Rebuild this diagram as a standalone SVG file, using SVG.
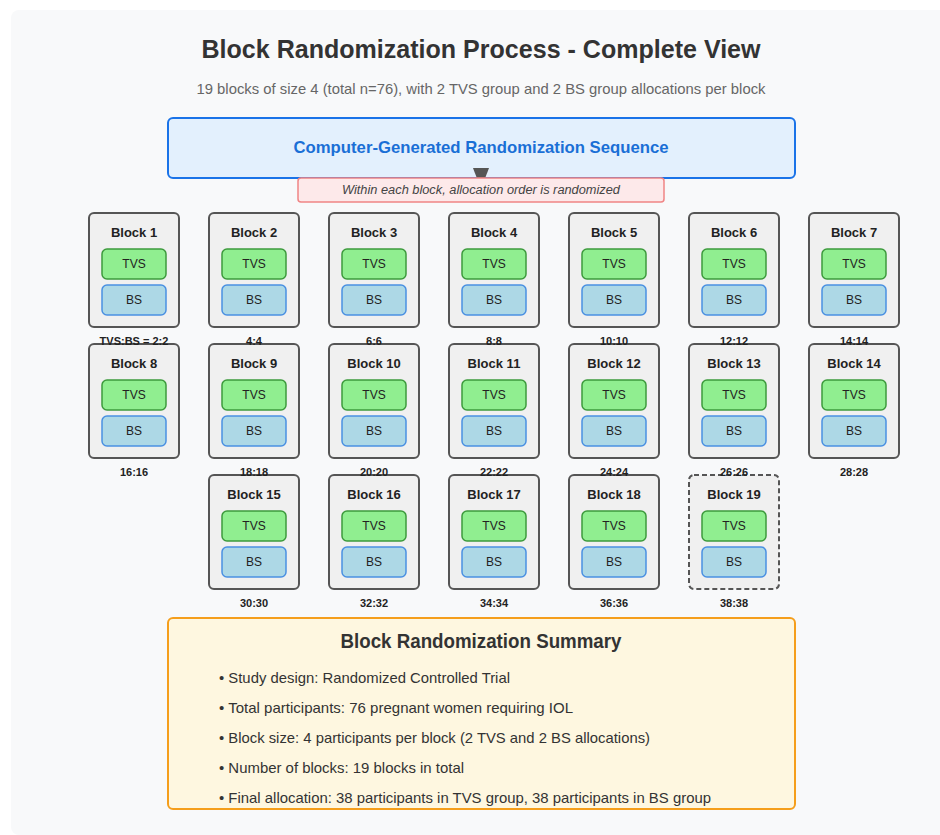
<svg xmlns="http://www.w3.org/2000/svg" width="940" height="835" viewBox="0 0 940 835">
<style>
text{font-family:"Liberation Sans",Arial,sans-serif;}
.blk{fill:#f0f0f0;stroke:#555;stroke-width:2;}
.dash{stroke-dasharray:5,3;}
.tvs{fill:#90ee90;stroke:#3d9a3d;stroke-width:1.5;}
.bs{fill:#add8e6;stroke:#4a90e2;stroke-width:1.5;}
.bt{font-size:13px;font-weight:bold;fill:#222;text-anchor:middle;}
.it{font-size:12px;fill:#222;text-anchor:middle;}
.rat{font-size:11px;font-weight:bold;fill:#222;text-anchor:middle;}
.bul{font-size:15px;fill:#333;}
</style>
<rect x="11" y="10" width="940" height="825" rx="8" fill="#f8f9fa"/>
<text x="481" y="58" font-size="26" font-weight="bold" fill="#333" text-anchor="middle" textLength="559" lengthAdjust="spacingAndGlyphs">Block Randomization Process - Complete View</text>
<text x="481" y="94" font-size="15" fill="#666" text-anchor="middle" textLength="569" lengthAdjust="spacingAndGlyphs">19 blocks of size 4 (total n=76), with 2 TVS group and 2 BS group allocations per block</text>
<g id="sequence">
<rect x="168" y="118" width="627" height="60" rx="5" fill="#e3f0fd" stroke="#1a73e8" stroke-width="2"/>
<text x="481" y="153" font-size="17" font-weight="bold" fill="#1a6fd6" text-anchor="middle" textLength="375" lengthAdjust="spacingAndGlyphs">Computer-Generated Randomization Sequence</text>
</g>
<g id="connectors">
<path d="M473,168 L489,168 L481,189 Z" fill="#555"/>
</g>
<g id="note">
<rect x="298" y="178" width="366" height="24" rx="3" fill="#fde9ea" stroke="#f08585" stroke-width="1.5"/>
<text x="481" y="194" font-size="12" font-style="italic" fill="#444" text-anchor="middle" textLength="278" lengthAdjust="spacingAndGlyphs">Within each block, allocation order is randomized</text>
</g>
<!-- Row 3 -->
<g id="block-15"><rect class="blk" x="209" y="475" width="90" height="114" rx="5"/><text class="bt" x="254" y="499">Block 15</text><rect class="tvs" x="222" y="511" width="64" height="30" rx="5"/><text class="it" x="254" y="530">TVS</text><rect class="bs" x="222" y="547" width="64" height="30" rx="5"/><text class="it" x="254" y="566">BS</text><text class="rat" x="254" y="607">30:30</text></g>
<g id="block-16"><rect class="blk" x="329" y="475" width="90" height="114" rx="5"/><text class="bt" x="374" y="499">Block 16</text><rect class="tvs" x="342" y="511" width="64" height="30" rx="5"/><text class="it" x="374" y="530">TVS</text><rect class="bs" x="342" y="547" width="64" height="30" rx="5"/><text class="it" x="374" y="566">BS</text><text class="rat" x="374" y="607">32:32</text></g>
<g id="block-17"><rect class="blk" x="449" y="475" width="90" height="114" rx="5"/><text class="bt" x="494" y="499">Block 17</text><rect class="tvs" x="462" y="511" width="64" height="30" rx="5"/><text class="it" x="494" y="530">TVS</text><rect class="bs" x="462" y="547" width="64" height="30" rx="5"/><text class="it" x="494" y="566">BS</text><text class="rat" x="494" y="607">34:34</text></g>
<g id="block-18"><rect class="blk" x="569" y="475" width="90" height="114" rx="5"/><text class="bt" x="614" y="499">Block 18</text><rect class="tvs" x="582" y="511" width="64" height="30" rx="5"/><text class="it" x="614" y="530">TVS</text><rect class="bs" x="582" y="547" width="64" height="30" rx="5"/><text class="it" x="614" y="566">BS</text><text class="rat" x="614" y="607">36:36</text></g>
<g id="block-19"><rect class="blk dash" x="689" y="475" width="90" height="114" rx="5"/><text class="bt" x="734" y="499">Block 19</text><rect class="tvs" x="702" y="511" width="64" height="30" rx="5"/><text class="it" x="734" y="530">TVS</text><rect class="bs" x="702" y="547" width="64" height="30" rx="5"/><text class="it" x="734" y="566">BS</text><text class="rat" x="734" y="607">38:38</text></g>
<!-- Row 2 -->
<g id="block-8"><rect class="blk" x="89" y="344" width="90" height="114" rx="5"/><text class="bt" x="134" y="368">Block 8</text><rect class="tvs" x="102" y="380" width="64" height="30" rx="5"/><text class="it" x="134" y="399">TVS</text><rect class="bs" x="102" y="416" width="64" height="30" rx="5"/><text class="it" x="134" y="435">BS</text><text class="rat" x="134" y="476">16:16</text></g>
<g id="block-9"><rect class="blk" x="209" y="344" width="90" height="114" rx="5"/><text class="bt" x="254" y="368">Block 9</text><rect class="tvs" x="222" y="380" width="64" height="30" rx="5"/><text class="it" x="254" y="399">TVS</text><rect class="bs" x="222" y="416" width="64" height="30" rx="5"/><text class="it" x="254" y="435">BS</text><text class="rat" x="254" y="476">18:18</text></g>
<g id="block-10"><rect class="blk" x="329" y="344" width="90" height="114" rx="5"/><text class="bt" x="374" y="368">Block 10</text><rect class="tvs" x="342" y="380" width="64" height="30" rx="5"/><text class="it" x="374" y="399">TVS</text><rect class="bs" x="342" y="416" width="64" height="30" rx="5"/><text class="it" x="374" y="435">BS</text><text class="rat" x="374" y="476">20:20</text></g>
<g id="block-11"><rect class="blk" x="449" y="344" width="90" height="114" rx="5"/><text class="bt" x="494" y="368">Block 11</text><rect class="tvs" x="462" y="380" width="64" height="30" rx="5"/><text class="it" x="494" y="399">TVS</text><rect class="bs" x="462" y="416" width="64" height="30" rx="5"/><text class="it" x="494" y="435">BS</text><text class="rat" x="494" y="476">22:22</text></g>
<g id="block-12"><rect class="blk" x="569" y="344" width="90" height="114" rx="5"/><text class="bt" x="614" y="368">Block 12</text><rect class="tvs" x="582" y="380" width="64" height="30" rx="5"/><text class="it" x="614" y="399">TVS</text><rect class="bs" x="582" y="416" width="64" height="30" rx="5"/><text class="it" x="614" y="435">BS</text><text class="rat" x="614" y="476">24:24</text></g>
<g id="block-13"><rect class="blk" x="689" y="344" width="90" height="114" rx="5"/><text class="bt" x="734" y="368">Block 13</text><rect class="tvs" x="702" y="380" width="64" height="30" rx="5"/><text class="it" x="734" y="399">TVS</text><rect class="bs" x="702" y="416" width="64" height="30" rx="5"/><text class="it" x="734" y="435">BS</text><text class="rat" x="734" y="476">26:26</text></g>
<g id="block-14"><rect class="blk" x="809" y="344" width="90" height="114" rx="5"/><text class="bt" x="854" y="368">Block 14</text><rect class="tvs" x="822" y="380" width="64" height="30" rx="5"/><text class="it" x="854" y="399">TVS</text><rect class="bs" x="822" y="416" width="64" height="30" rx="5"/><text class="it" x="854" y="435">BS</text><text class="rat" x="854" y="476">28:28</text></g>
<!-- Row 1 -->
<g id="block-1"><rect class="blk" x="89" y="213" width="90" height="114" rx="5"/><text class="bt" x="134" y="237">Block 1</text><rect class="tvs" x="102" y="249" width="64" height="30" rx="5"/><text class="it" x="134" y="268">TVS</text><rect class="bs" x="102" y="285" width="64" height="30" rx="5"/><text class="it" x="134" y="304">BS</text><text class="rat" x="134" y="345">TVS:BS = 2:2</text></g>
<g id="block-2"><rect class="blk" x="209" y="213" width="90" height="114" rx="5"/><text class="bt" x="254" y="237">Block 2</text><rect class="tvs" x="222" y="249" width="64" height="30" rx="5"/><text class="it" x="254" y="268">TVS</text><rect class="bs" x="222" y="285" width="64" height="30" rx="5"/><text class="it" x="254" y="304">BS</text><text class="rat" x="254" y="345">4:4</text></g>
<g id="block-3"><rect class="blk" x="329" y="213" width="90" height="114" rx="5"/><text class="bt" x="374" y="237">Block 3</text><rect class="tvs" x="342" y="249" width="64" height="30" rx="5"/><text class="it" x="374" y="268">TVS</text><rect class="bs" x="342" y="285" width="64" height="30" rx="5"/><text class="it" x="374" y="304">BS</text><text class="rat" x="374" y="345">6:6</text></g>
<g id="block-4"><rect class="blk" x="449" y="213" width="90" height="114" rx="5"/><text class="bt" x="494" y="237">Block 4</text><rect class="tvs" x="462" y="249" width="64" height="30" rx="5"/><text class="it" x="494" y="268">TVS</text><rect class="bs" x="462" y="285" width="64" height="30" rx="5"/><text class="it" x="494" y="304">BS</text><text class="rat" x="494" y="345">8:8</text></g>
<g id="block-5"><rect class="blk" x="569" y="213" width="90" height="114" rx="5"/><text class="bt" x="614" y="237">Block 5</text><rect class="tvs" x="582" y="249" width="64" height="30" rx="5"/><text class="it" x="614" y="268">TVS</text><rect class="bs" x="582" y="285" width="64" height="30" rx="5"/><text class="it" x="614" y="304">BS</text><text class="rat" x="614" y="345">10:10</text></g>
<g id="block-6"><rect class="blk" x="689" y="213" width="90" height="114" rx="5"/><text class="bt" x="734" y="237">Block 6</text><rect class="tvs" x="702" y="249" width="64" height="30" rx="5"/><text class="it" x="734" y="268">TVS</text><rect class="bs" x="702" y="285" width="64" height="30" rx="5"/><text class="it" x="734" y="304">BS</text><text class="rat" x="734" y="345">12:12</text></g>
<g id="block-7"><rect class="blk" x="809" y="213" width="90" height="114" rx="5"/><text class="bt" x="854" y="237">Block 7</text><rect class="tvs" x="822" y="249" width="64" height="30" rx="5"/><text class="it" x="854" y="268">TVS</text><rect class="bs" x="822" y="285" width="64" height="30" rx="5"/><text class="it" x="854" y="304">BS</text><text class="rat" x="854" y="345">14:14</text></g>
<g id="summary">
<rect x="168" y="618" width="627" height="191" rx="5" fill="#fef7e0" stroke="#f59e1b" stroke-width="2"/>
<text x="481" y="648" font-size="20" font-weight="bold" fill="#333" text-anchor="middle" textLength="281" lengthAdjust="spacingAndGlyphs">Block Randomization Summary</text>
<text class="bul" x="219" y="683" textLength="291" lengthAdjust="spacingAndGlyphs">• Study design: Randomized Controlled Trial</text>
<text class="bul" x="219" y="713" textLength="354" lengthAdjust="spacingAndGlyphs">• Total participants: 76 pregnant women requiring IOL</text>
<text class="bul" x="219" y="743" textLength="431" lengthAdjust="spacingAndGlyphs">• Block size: 4 participants per block (2 TVS and 2 BS allocations)</text>
<text class="bul" x="219" y="773" textLength="245" lengthAdjust="spacingAndGlyphs">• Number of blocks: 19 blocks in total</text>
<text class="bul" x="219" y="803" textLength="492" lengthAdjust="spacingAndGlyphs">• Final allocation: 38 participants in TVS group, 38 participants in BS group</text>
</g>
</svg>
